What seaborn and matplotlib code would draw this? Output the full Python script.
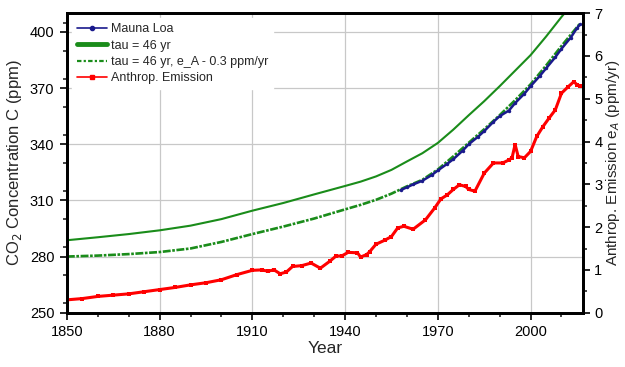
import pandas as pd
import seaborn as sns
import matplotlib.pyplot as plt
import matplotlib.ticker as ticker
from matplotlib.lines import Line2D

# Model run, tau = 46 yr (upper green curve)
tau_years = [1850, 1860, 1870, 1880, 1890, 1900, 1910, 1920, 1930, 1940, 1945,
             1950, 1955, 1960, 1965, 1970, 1975, 1980, 1985, 1990, 1995, 2000,
             2005, 2010, 2013]
tau_ppm = [288.7, 290.3, 292.0, 294.0, 296.5, 300.0, 304.5, 308.6, 313.2, 317.7, 320.0,
           322.8, 326.3, 330.8, 335.2, 340.7, 347.8, 355.5, 363.0, 371.0, 379.3, 387.6,
           397.5, 408.0, 414.0]

# Model run, tau = 46 yr with e_A - 0.3 ppm/yr (lower green curve)
tau2_years = [1850, 1860, 1870, 1880, 1890, 1900, 1910, 1920, 1930, 1940, 1945,
              1950, 1955, 1960, 1965, 1970, 1975, 1980, 1985, 1990, 1995, 2000,
              2005, 2010, 2016]
tau2_ppm = [280.0, 280.5, 281.3, 282.4, 284.3, 287.8, 292.0, 296.0, 300.3, 305.2, 307.6,
            310.3, 313.6, 317.5, 321.0, 326.5, 333.5, 340.8, 348.0, 355.5, 363.5, 372.0,
            382.0, 392.5, 404.5]

# Mauna Loa observations
ml_years = [1958, 1960, 1962, 1965, 1968, 1970, 1973, 1975, 1978, 1980, 1983,
            1985, 1988, 1990, 1993, 1995, 1998, 2000, 2003, 2005, 2008, 2010,
            2013, 2015, 2016]
ml_ppm = [315.5, 317.0, 318.5, 320.5, 323.5, 326.0, 329.5, 332.0, 336.5, 340.0,
          344.0, 347.0, 352.0, 355.0, 358.0, 362.0, 367.0, 371.0, 376.5, 380.5,
          386.5, 391.0, 397.0, 402.0, 404.0]

# Anthropogenic emission (right axis, ppm/yr)
em_years = [1850, 1855, 1860, 1865, 1870, 1875, 1880, 1885, 1890, 1895, 1900,
            1905, 1910, 1913, 1915, 1917, 1919, 1921, 1923, 1926, 1929, 1932,
            1935, 1937, 1939, 1941, 1944, 1945, 1947, 1948, 1950, 1953, 1955,
            1957, 1959, 1962, 1966, 1969, 1971, 1973, 1975, 1977, 1979, 1980,
            1982, 1985, 1988, 1991, 1993, 1994, 1995, 1996, 1998, 2000, 2002,
            2004, 2006, 2008, 2010, 2012, 2014, 2015, 2016]
em_val = [0.30, 0.33, 0.38, 0.41, 0.44, 0.49, 0.54, 0.59, 0.65, 0.70, 0.77,
          0.89, 0.99, 1.00, 0.97, 1.00, 0.91, 0.95, 1.08, 1.10, 1.16, 1.04,
          1.20, 1.32, 1.33, 1.41, 1.40, 1.30, 1.36, 1.43, 1.60, 1.70, 1.78,
          1.98, 2.02, 1.95, 2.17, 2.45, 2.66, 2.75, 2.88, 2.99, 2.95, 2.88,
          2.84, 3.26, 3.50, 3.50, 3.57, 3.62, 3.93, 3.65, 3.62, 3.77, 4.12,
          4.35, 4.55, 4.74, 5.13, 5.27, 5.40, 5.33, 5.30]

year_ticks = [1850, 1880, 1910, 1940, 1970, 2000]
ppm_ticks = [250, 280, 310, 340, 370, 400]

GREEN = '#1a8c1a'
BLUE = '#1a1a8c'
RED = '#ff0000'

sns.set_style('white')
plt.rcParams['font.family'] = ['Liberation Sans', 'DejaVu Sans']

fig = plt.figure(figsize=(6.25, 3.67), dpi=100)
ax = fig.add_axes([0.107, 0.148, 0.826, 0.816])
ax2 = ax.twinx()

sns.lineplot(x=tau_years, y=tau_ppm, ax=ax, color=GREEN, lw=1.5)
sns.lineplot(x=tau2_years, y=tau2_ppm, ax=ax, color=GREEN, lw=1.9,
             linestyle=(0, (3, 0.6, 1, 0.6)))
sns.lineplot(x=ml_years, y=ml_ppm, ax=ax, color=BLUE, lw=1.8,
             marker='o', markersize=2.5, markeredgewidth=0)
sns.lineplot(x=em_years, y=em_val, ax=ax2, color=RED, lw=2.2,
             marker='s', markersize=2.5, markeredgewidth=0)

ax.set_xlim(1850, 2017)
ax.set_ylim(250, 410)
ax2.set_ylim(0, 7)

ax.xaxis.set_major_locator(ticker.FixedLocator(year_ticks))
ax.xaxis.set_minor_locator(ticker.MultipleLocator(10))
ax.yaxis.set_major_locator(ticker.FixedLocator(ppm_ticks))
ax.yaxis.set_minor_locator(ticker.MultipleLocator(15))
ax2.yaxis.set_major_locator(ticker.MultipleLocator(1))
ax2.yaxis.set_minor_locator(ticker.MultipleLocator(0.5))

ax.grid(True, which='major', color='#c8c8c8', lw=0.9)
ax2.grid(False)

for a in (ax, ax2):
    for s in a.spines.values():
        s.set_linewidth(2)
        s.set_color('black')
    a.tick_params(which='major', direction='out', length=5, width=1.2,
                  labelsize=10.5, colors='black', pad=4)
    a.tick_params(which='minor', direction='out', length=3, width=1.2)
ax.tick_params(axis='x', which='both', bottom=True)
ax.tick_params(axis='y', which='both', left=True)
ax2.tick_params(axis='y', which='both', right=True, pad=3)

ax.set_xlabel('Year', fontsize=12.5, labelpad=1)
ax.set_ylabel('CO$_2$ Concentration C (ppm)', fontsize=12, labelpad=4)
ax2.set_ylabel('Anthrop. Emission e$_A$ (ppm/yr)', fontsize=11, labelpad=1)

handles = [
    Line2D([], [], color=BLUE, lw=1.2, marker='o', markersize=3),
    Line2D([], [], color=GREEN, lw=3.5),
    Line2D([], [], color=GREEN, lw=1.6, linestyle=(0, (2, 1, 1, 1))),
    Line2D([], [], color=RED, lw=1.2, marker='s', markersize=3),
]
labels = ['Mauna Loa', 'tau = 46 yr', 'tau = 46 yr, e_A - 0.3 ppm/yr',
          'Anthrop. Emission']
leg = ax2.legend(handles, labels, loc='upper left', fontsize=9,
                 frameon=True, fancybox=False, edgecolor='white',
                 framealpha=1, handlelength=2.4, handletextpad=0.3,
                 labelspacing=0.35, borderaxespad=0.4)

fig.savefig('out.png', dpi=100)
